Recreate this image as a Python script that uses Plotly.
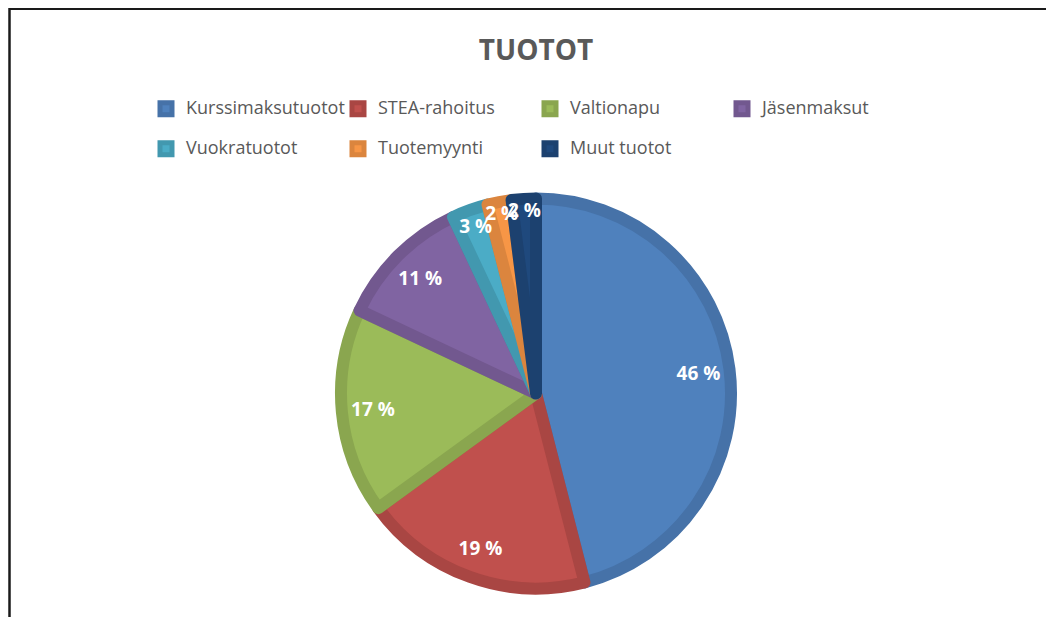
import plotly.graph_objects as go

# ---- data ----
categories = ["Kurssimaksutuotot", "STEA-rahoitus", "Valtionapu", "Jäsenmaksut",
              "Vuokratuotot", "Tuotemyynti", "Muut tuotot"]
shares = [46, 19, 17, 11, 3, 2, 2]  # percent
fill_colors = ["#4F81BD", "#C0504D", "#9BBB59", "#8064A2", "#4BACC6", "#F79646", "#1F497D"]
edge_colors = ["#4672A8", "#A94643", "#8AA64F", "#72588F", "#4298AF", "#DB853E", "#1C416F"]
title_text = "TUOTOT"

W, H = 1054, 617
MR = 110            # right margin: makes the legend wrap after four entries
PW = W - MR         # plot-area width (paper coordinates refer to it)
OFF = 8             # default body margin of the html page
FONT = "Open Sans"
GRAY = "#595959"

# legend entries: 18px text plus a blank second line so the rows are spaced like the original
legend_labels = ['<span style="font-size:18px">' + c + '</span><br> ' for c in categories]

cx, cy, r = 536 - OFF, 393.5 - OFF, 195
dom_x = [(cx - 220) / PW, (cx + 220) / PW]
dom_y = [(H - cy - r) / H, (H - cy + r) / H]

fig = go.Figure()
fig.add_trace(go.Pie(
    labels=legend_labels, values=shares, sort=False, direction="clockwise", rotation=0,
    marker=dict(colors=fill_colors, line=dict(color=edge_colors, width=12)),
    textinfo="none", customdata=categories,
    hovertemplate="%{customdata}: %{value} %<extra></extra>",
    domain=dict(x=dom_x, y=dom_y), showlegend=True,
))
# transparent ring used only to place the percentage labels near the outer edge
fig.add_trace(go.Pie(
    labels=legend_labels, values=shares, sort=False, direction="clockwise", rotation=0,
    hole=0.68,
    marker=dict(colors=["rgba(0,0,0,0)"] * len(shares), line=dict(width=0)),
    texttemplate="%{value} %", textposition="inside", insidetextorientation="horizontal",
    textfont=dict(family=FONT, size=19, color="white", weight="bold"),
    hoverinfo="skip", domain=dict(x=dom_x, y=dom_y), showlegend=False,
))

fig.update_layout(
    width=W, height=H,
    margin=dict(l=0, r=MR, t=0, b=0, autoexpand=False),
    paper_bgcolor="white", plot_bgcolor="white",
    title=dict(text=title_text, x=cx / W, xanchor="center", y=(H - 50 + OFF) / H, yanchor="middle",
               font=dict(family=FONT, size=28, color=GRAY, weight="bold")),
    legend=dict(orientation="h", x=(146 - OFF) / PW, xanchor="left", y=(H - 93 + OFF) / H, yanchor="top",
                font=dict(family=FONT, size=14.2, color=GRAY), valign="top",
                entrywidth=147, entrywidthmode="pixels", traceorder="normal",
                bgcolor="rgba(0,0,0,0)"),
    uniformtext=dict(minsize=19, mode="show"),
    shapes=[
        dict(type="line", xref="paper", yref="paper", x0=(9.5 - OFF) / PW, x1=W / PW, y0=(H - 1) / H, y1=(H - 1) / H,
             line=dict(color="#1a1a1a", width=2)),
        dict(type="line", xref="paper", yref="paper", x0=(9.5 - OFF) / PW, x1=(9.5 - OFF) / PW, y0=0, y1=1,
             line=dict(color="#1a1a1a", width=2.5)),
    ],
)

fig.write_html("out.html")
